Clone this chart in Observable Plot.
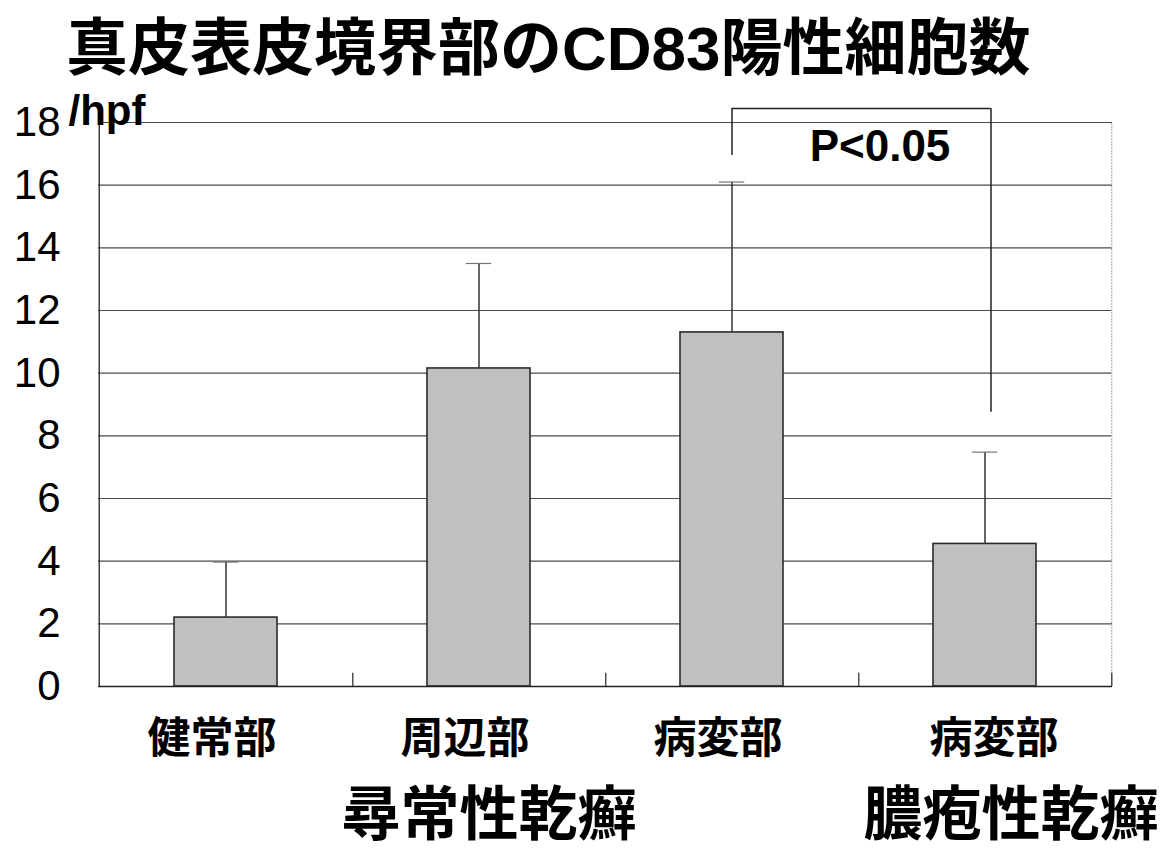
<!DOCTYPE html>
<html>
<head>
<meta charset="utf-8">
<script src="https://cdn.jsdelivr.net/npm/d3@7"></script>
<script src="https://cdn.jsdelivr.net/npm/@observablehq/plot@0.6"></script>
<style>
  body { margin: 0; background: #fff; }
  #wrap { position: relative; width: 1167px; height: 853px; }
  #title {
    position: absolute; left: 66px; top: 18px;
    font-family: "Liberation Sans", "Noto Sans CJK JP", sans-serif; font-weight: 700;
    font-size: 62px; line-height: 62px; white-space: nowrap; color: #000;
  }
  #chart { position: absolute; left: 0; top: 0; }
</style>
</head>
<body>
<div id="wrap">
  <div id="chart"></div>
  <div id="title">真皮表皮境界部のCD83陽性細胞数</div>
</div>
<script>
// CD83-positive cells per high-power field at the dermo-epidermal junction
const groups = ["尋常性乾癬", "尋常性乾癬", "尋常性乾癬", "膿疱性乾癬"];
const sites  = ["健常部", "周辺部", "病変部", "病変部"];
const means  = [2.2, 10.15, 11.3, 4.55];
const sds    = [1.77, 3.35, 4.8, 2.93];
const yTicks = [0, 2, 4, 6, 8, 10, 12, 14, 16, 18];
const unitLabel = "/hpf";
const groupLabels = ["尋常性乾癬", "膿疱性乾癬"];

// significance bracket between the two lesion groups
const pLabel = "P<0.05";
const bracketTop = 18.45;
const bracketLeftEnd = 16.95;
const bracketRightEnd = 8.75;

const keys = sites.map((s, i) => groups[i] + "・" + s);
const siteOf = new Map(keys.map((k, i) => [k, sites[i]]));
const data = keys.map((k, i) => ({key: k, mean: means[i], upper: means[i] + sds[i]}));

const half = (1167 - 98 - 55) / keys.length / 2; // half a category band
const cjk = "Noto Sans CJK JP";
const latin = "Liberation Sans, Arial, sans-serif";
const middleOf = (g) => {
  const ks = keys.filter((k, i) => groups[i] === g);
  return ks[Math.floor(ks.length / 2)];
};
const siteLabelStyle = {
  tickSize: 0, tickPadding: 36, tickFormat: (k) => siteOf.get(k),
  fontSize: 43, fontFamily: cjk, fontWeight: 700, label: null, fill: "black"
};
const groupLabelStyle = {
  frameAnchor: "bottom", lineAnchor: "middle", dy: 130, text: (d) => d,
  fontSize: 59, fontWeight: 700, fontFamily: cjk, fill: "black"
};

const chart = Plot.plot({
  width: 1167,
  height: 853,
  marginLeft: 98,
  marginRight: 55,
  marginTop: 122,
  marginBottom: 167,
  style: {background: "white", color: "black", overflow: "visible"},
  x: {domain: keys, padding: 0},
  y: {domain: [0, 18]},
  marks: [
    // horizontal gridlines
    Plot.ruleY(yTicks.filter((d) => d > 0), {stroke: "#4a4a4a", strokeWidth: 1.2}),
    // faint right border of the plot area
    Plot.ruleX([keys[keys.length - 1]], {y1: 0, y2: 18, dx: half, stroke: "#b5b5b5", strokeWidth: 1.2, strokeDasharray: "2,1"}),
    // bars
    Plot.barY(data, {x: "key", y: "mean", fill: "#c0c0c0", stroke: "#2b2b2b", strokeWidth: 1.6, insetLeft: 75, insetRight: 75}),
    // upper error bars
    Plot.ruleX(data, {x: "key", y1: "mean", y2: "upper", stroke: "#333", strokeWidth: 1.5}),
    Plot.tickY(data, {x: "key", y: "upper", stroke: "#777", strokeWidth: 1.2, insetLeft: half - 13, insetRight: half - 13}),
    // axis lines and category separators
    Plot.ruleY([0], {stroke: "#222", strokeWidth: 1.6}),
    Plot.ruleX([keys[0]], {y1: 0, y2: 18, dx: -half, stroke: "#333", strokeWidth: 1.4}),
    Plot.ruleX(keys, {y1: 0, y2: 0.42, dx: half, stroke: "#444", strokeWidth: 1.4}),
    // significance bracket
    Plot.ruleX([0], {x: () => keys[2], y1: bracketLeftEnd, y2: bracketTop, stroke: "#222", strokeWidth: 1.5}),
    Plot.ruleX([0], {x: () => keys[3], y1: bracketRightEnd, y2: bracketTop, dx: 6, stroke: "#222", strokeWidth: 1.5}),
    Plot.ruleY([bracketTop], {x1: () => keys[2], x2: () => keys[3], insetLeft: half, insetRight: half - 6, stroke: "#222", strokeWidth: 1.5}),
    Plot.text([pLabel], {x: () => keys[3], y: () => 17.22, dx: -105, text: (d) => d, fontSize: 44, fontWeight: 700, fontFamily: latin, fill: "black"}),
    // axes
    Plot.axisY(yTicks, {tickSize: 0, tickPadding: 38, fontSize: 42, fontFamily: latin, label: null, fill: "black"}),
    Plot.axisX(keys.slice(0, 3), {...siteLabelStyle, dx: -14}),
    Plot.axisX(keys.slice(3), {...siteLabelStyle, dx: 9}),
    // unit label
    Plot.text([unitLabel], {frameAnchor: "top-left", text: (d) => d, textAnchor: "start", lineAnchor: "middle", dx: -30, dy: -11, fontSize: 42, fontWeight: 700, fontFamily: latin, fill: "black"}),
    // disease group labels
    Plot.text([groupLabels[0]], {x: () => middleOf(groupLabels[0]), dx: 10, ...groupLabelStyle}),
    Plot.text([groupLabels[1]], {x: () => middleOf(groupLabels[1]), dx: 26, ...groupLabelStyle})
  ]
});
document.getElementById("chart").append(chart);
</script>
</body>
</html>
